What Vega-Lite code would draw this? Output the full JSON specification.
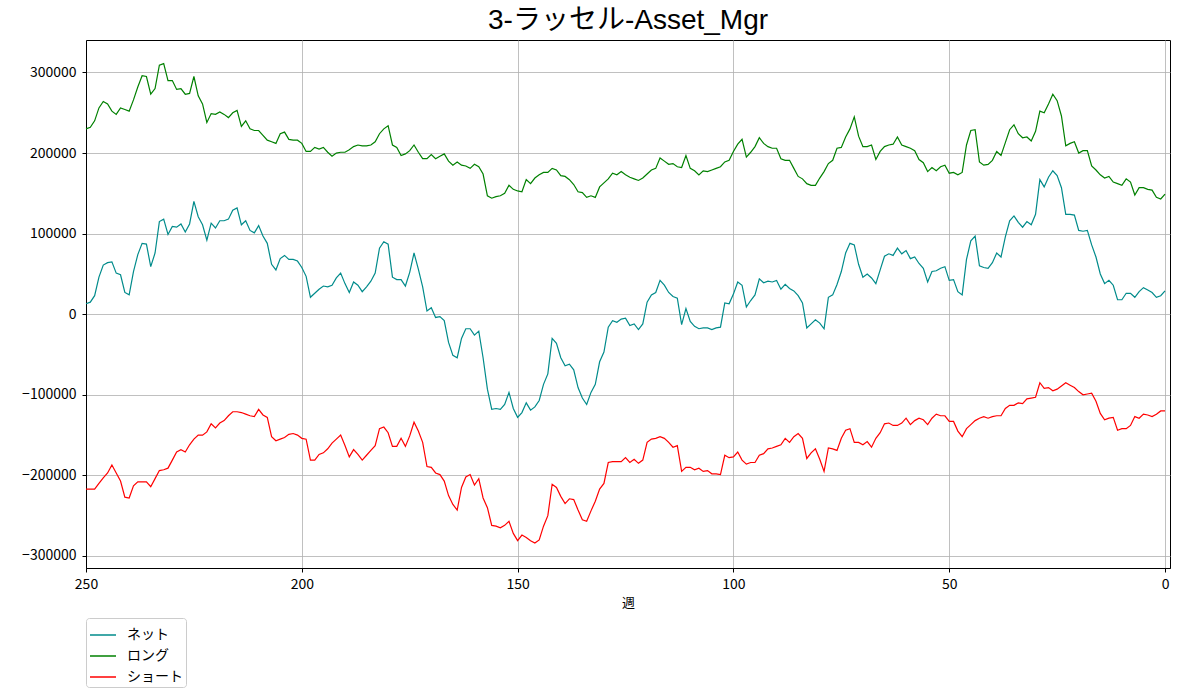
{
  "$schema": "https://vega.github.io/schema/vega-lite/v6.json",
  "description": "3-ラッセル-Asset_Mgr net / long / short positions by week",
  "width": 1084,
  "height": 528,
  "autosize": {"type": "none"},
  "padding": {"left": 86, "top": 40, "right": 10, "bottom": 130},
  "background": "white",
  "config": {
    "font": "Noto Sans CJK JP",
    "view": {"stroke": "black", "strokeWidth": 1},
    "axis": {
      "labelFont": "Noto Sans CJK JP",
      "titleFont": "Noto Sans CJK JP",
      "labelFontSize": 14,
      "titleFontSize": 13,
      "labelColor": "black",
      "titleColor": "black",
      "titleFontWeight": "normal",
      "tickColor": "black",
      "tickSize": 4,
      "domainColor": "black",
      "gridColor": "#b0b0b0",
      "gridWidth": 0.8
    },
    "legend": {"labelFont": "Noto Sans CJK JP"}
  },
  "title": {
    "text": "3-ラッセル-Asset_Mgr",
    "font": "Liberation Sans, Noto Sans CJK JP",
    "fontSize": 28,
    "fontWeight": "normal",
    "color": "black",
    "anchor": "middle",
    "offset": 5
  },
  "data": {
    "values": [
      {"week":250,"series":"ネット","value":13000},{"week":249,"series":"ネット","value":15000},{"week":248,"series":"ネット","value":23000},{"week":247,"series":"ネット","value":46000},{"week":246,"series":"ネット","value":61000},
      {"week":245,"series":"ネット","value":64000},{"week":244,"series":"ネット","value":65000},{"week":243,"series":"ネット","value":51000},{"week":242,"series":"ネット","value":49000},{"week":241,"series":"ネット","value":27000},
      {"week":240,"series":"ネット","value":24000},{"week":239,"series":"ネット","value":53000},{"week":238,"series":"ネット","value":74000},{"week":237,"series":"ネット","value":88000},{"week":236,"series":"ネット","value":87000},
      {"week":235,"series":"ネット","value":59000},{"week":234,"series":"ネット","value":76000},{"week":233,"series":"ネット","value":115000},{"week":232,"series":"ネット","value":118000},{"week":231,"series":"ネット","value":99000},
      {"week":230,"series":"ネット","value":109000},{"week":229,"series":"ネット","value":108000},{"week":228,"series":"ネット","value":112000},{"week":227,"series":"ネット","value":102000},{"week":226,"series":"ネット","value":112000},
      {"week":225,"series":"ネット","value":140000},{"week":224,"series":"ネット","value":121000},{"week":223,"series":"ネット","value":111000},{"week":222,"series":"ネット","value":92000},{"week":221,"series":"ネット","value":113000},
      {"week":220,"series":"ネット","value":107000},{"week":219,"series":"ネット","value":116000},{"week":218,"series":"ネット","value":116000},{"week":217,"series":"ネット","value":118000},{"week":216,"series":"ネット","value":129000},
      {"week":215,"series":"ネット","value":132000},{"week":214,"series":"ネット","value":111000},{"week":213,"series":"ネット","value":116000},{"week":212,"series":"ネット","value":104000},{"week":211,"series":"ネット","value":101000},
      {"week":210,"series":"ネット","value":110000},{"week":209,"series":"ネット","value":97000},{"week":208,"series":"ネット","value":88000},{"week":207,"series":"ネット","value":62000},{"week":206,"series":"ネット","value":55000},
      {"week":205,"series":"ネット","value":69000},{"week":204,"series":"ネット","value":73000},{"week":203,"series":"ネット","value":68000},{"week":202,"series":"ネット","value":68000},{"week":201,"series":"ネット","value":66000},
      {"week":200,"series":"ネット","value":58000},{"week":199,"series":"ネット","value":47000},{"week":198,"series":"ネット","value":21000},{"week":197,"series":"ネット","value":26000},{"week":196,"series":"ネット","value":31000},
      {"week":195,"series":"ネット","value":35000},{"week":194,"series":"ネット","value":34000},{"week":193,"series":"ネット","value":36000},{"week":192,"series":"ネット","value":45000},{"week":191,"series":"ネット","value":51000},
      {"week":190,"series":"ネット","value":38000},{"week":189,"series":"ネット","value":27000},{"week":188,"series":"ネット","value":40000},{"week":187,"series":"ネット","value":36000},{"week":186,"series":"ネット","value":28000},
      {"week":185,"series":"ネット","value":34000},{"week":184,"series":"ネット","value":41000},{"week":183,"series":"ネット","value":51000},{"week":182,"series":"ネット","value":82000},{"week":181,"series":"ネット","value":90000},
      {"week":180,"series":"ネット","value":87000},{"week":179,"series":"ネット","value":46000},{"week":178,"series":"ネット","value":43000},{"week":177,"series":"ネット","value":43000},{"week":176,"series":"ネット","value":35000},
      {"week":175,"series":"ネット","value":52000},{"week":174,"series":"ネット","value":76000},{"week":173,"series":"ネット","value":56000},{"week":172,"series":"ネット","value":34000},{"week":171,"series":"ネット","value":4000},
      {"week":170,"series":"ネット","value":8000},{"week":169,"series":"ネット","value":-4000},{"week":168,"series":"ネット","value":-3000},{"week":167,"series":"ネット","value":-8000},{"week":166,"series":"ネット","value":-35000},
      {"week":165,"series":"ネット","value":-51000},{"week":164,"series":"ネット","value":-54000},{"week":163,"series":"ネット","value":-30000},{"week":162,"series":"ネット","value":-18000},{"week":161,"series":"ネット","value":-18000},
      {"week":160,"series":"ネット","value":-26000},{"week":159,"series":"ネット","value":-21000},{"week":158,"series":"ネット","value":-54000},{"week":157,"series":"ネット","value":-93000},{"week":156,"series":"ネット","value":-118000},
      {"week":155,"series":"ネット","value":-117000},{"week":154,"series":"ネット","value":-118000},{"week":153,"series":"ネット","value":-112000},{"week":152,"series":"ネット","value":-97000},{"week":151,"series":"ネット","value":-117000},
      {"week":150,"series":"ネット","value":-128000},{"week":149,"series":"ネット","value":-122000},{"week":148,"series":"ネット","value":-110000},{"week":147,"series":"ネット","value":-119000},{"week":146,"series":"ネット","value":-115000},
      {"week":145,"series":"ネット","value":-107000},{"week":144,"series":"ネット","value":-87000},{"week":143,"series":"ネット","value":-74000},{"week":142,"series":"ネット","value":-30000},{"week":141,"series":"ネット","value":-36000},
      {"week":140,"series":"ネット","value":-54000},{"week":139,"series":"ネット","value":-64000},{"week":138,"series":"ネット","value":-62000},{"week":137,"series":"ネット","value":-69000},{"week":136,"series":"ネット","value":-91000},
      {"week":135,"series":"ネット","value":-104000},{"week":134,"series":"ネット","value":-112000},{"week":133,"series":"ネット","value":-97000},{"week":132,"series":"ネット","value":-87000},{"week":131,"series":"ネット","value":-59000},
      {"week":130,"series":"ネット","value":-47000},{"week":129,"series":"ネット","value":-16000},{"week":128,"series":"ネット","value":-8000},{"week":127,"series":"ネット","value":-10000},{"week":126,"series":"ネット","value":-6000},
      {"week":125,"series":"ネット","value":-5000},{"week":124,"series":"ネット","value":-14000},{"week":123,"series":"ネット","value":-12000},{"week":122,"series":"ネット","value":-19000},{"week":121,"series":"ネット","value":-12000},
      {"week":120,"series":"ネット","value":15000},{"week":119,"series":"ネット","value":24000},{"week":118,"series":"ネット","value":27000},{"week":117,"series":"ネット","value":42000},{"week":116,"series":"ネット","value":36000},
      {"week":115,"series":"ネット","value":27000},{"week":114,"series":"ネット","value":22000},{"week":113,"series":"ネット","value":20000},{"week":112,"series":"ネット","value":-13000},{"week":111,"series":"ネット","value":7000},
      {"week":110,"series":"ネット","value":-9000},{"week":109,"series":"ネット","value":-15000},{"week":108,"series":"ネット","value":-18000},{"week":107,"series":"ネット","value":-17000},{"week":106,"series":"ネット","value":-17000},
      {"week":105,"series":"ネット","value":-19000},{"week":104,"series":"ネット","value":-17000},{"week":103,"series":"ネット","value":-16000},{"week":102,"series":"ネット","value":14000},{"week":101,"series":"ネット","value":13000},
      {"week":100,"series":"ネット","value":25000},{"week":99,"series":"ネット","value":40000},{"week":98,"series":"ネット","value":36000},{"week":97,"series":"ネット","value":9000},{"week":96,"series":"ネット","value":17000},
      {"week":95,"series":"ネット","value":24000},{"week":94,"series":"ネット","value":44000},{"week":93,"series":"ネット","value":39000},{"week":92,"series":"ネット","value":41000},{"week":91,"series":"ネット","value":40000},
      {"week":90,"series":"ネット","value":42000},{"week":89,"series":"ネット","value":31000},{"week":88,"series":"ネット","value":37000},{"week":87,"series":"ネット","value":32000},{"week":86,"series":"ネット","value":29000},
      {"week":85,"series":"ネット","value":23000},{"week":84,"series":"ネット","value":14000},{"week":83,"series":"ネット","value":-17000},{"week":82,"series":"ネット","value":-12000},{"week":81,"series":"ネット","value":-7000},
      {"week":80,"series":"ネット","value":-11000},{"week":79,"series":"ネット","value":-18000},{"week":78,"series":"ネット","value":21000},{"week":77,"series":"ネット","value":24000},{"week":76,"series":"ネット","value":37000},
      {"week":75,"series":"ネット","value":53000},{"week":74,"series":"ネット","value":76000},{"week":73,"series":"ネット","value":88000},{"week":72,"series":"ネット","value":86000},{"week":71,"series":"ネット","value":62000},
      {"week":70,"series":"ネット","value":46000},{"week":69,"series":"ネット","value":50000},{"week":68,"series":"ネット","value":45000},{"week":67,"series":"ネット","value":38000},{"week":66,"series":"ネット","value":55000},
      {"week":65,"series":"ネット","value":72000},{"week":64,"series":"ネット","value":75000},{"week":63,"series":"ネット","value":73000},{"week":62,"series":"ネット","value":82000},{"week":61,"series":"ネット","value":75000},
      {"week":60,"series":"ネット","value":79000},{"week":59,"series":"ネット","value":69000},{"week":58,"series":"ネット","value":71000},{"week":57,"series":"ネット","value":63000},{"week":56,"series":"ネット","value":57000},
      {"week":55,"series":"ネット","value":40000},{"week":54,"series":"ネット","value":53000},{"week":53,"series":"ネット","value":54000},{"week":52,"series":"ネット","value":57000},{"week":51,"series":"ネット","value":59000},
      {"week":50,"series":"ネット","value":42000},{"week":49,"series":"ネット","value":43000},{"week":48,"series":"ネット","value":28000},{"week":47,"series":"ネット","value":24000},{"week":46,"series":"ネット","value":68000},
      {"week":45,"series":"ネット","value":91000},{"week":44,"series":"ネット","value":97000},{"week":43,"series":"ネット","value":60000},{"week":42,"series":"ネット","value":58000},{"week":41,"series":"ネット","value":57000},
      {"week":40,"series":"ネット","value":64000},{"week":39,"series":"ネット","value":76000},{"week":38,"series":"ネット","value":71000},{"week":37,"series":"ネット","value":96000},{"week":36,"series":"ネット","value":116000},
      {"week":35,"series":"ネット","value":122000},{"week":34,"series":"ネット","value":114000},{"week":33,"series":"ネット","value":108000},{"week":32,"series":"ネット","value":115000},{"week":31,"series":"ネット","value":111000},
      {"week":30,"series":"ネット","value":124000},{"week":29,"series":"ネット","value":167000},{"week":28,"series":"ネット","value":158000},{"week":27,"series":"ネット","value":170000},{"week":26,"series":"ネット","value":178000},
      {"week":25,"series":"ネット","value":172000},{"week":24,"series":"ネット","value":157000},{"week":23,"series":"ネット","value":124000},{"week":22,"series":"ネット","value":124000},{"week":21,"series":"ネット","value":123000},
      {"week":20,"series":"ネット","value":104000},{"week":19,"series":"ネット","value":103000},{"week":18,"series":"ネット","value":104000},{"week":17,"series":"ネット","value":86000},{"week":16,"series":"ネット","value":71000},
      {"week":15,"series":"ネット","value":50000},{"week":14,"series":"ネット","value":38000},{"week":13,"series":"ネット","value":42000},{"week":12,"series":"ネット","value":36000},{"week":11,"series":"ネット","value":18000},
      {"week":10,"series":"ネット","value":18000},{"week":9,"series":"ネット","value":26000},{"week":8,"series":"ネット","value":26000},{"week":7,"series":"ネット","value":21000},{"week":6,"series":"ネット","value":28000},
      {"week":5,"series":"ネット","value":33000},{"week":4,"series":"ネット","value":30000},{"week":3,"series":"ネット","value":27000},{"week":2,"series":"ネット","value":21000},{"week":1,"series":"ネット","value":23000},
      {"week":0,"series":"ネット","value":29000},

      {"week":250,"series":"ロング","value":230000},{"week":249,"series":"ロング","value":232000},{"week":248,"series":"ロング","value":240000},{"week":247,"series":"ロング","value":256000},{"week":246,"series":"ロング","value":264000},
      {"week":245,"series":"ロング","value":261000},{"week":244,"series":"ロング","value":252000},{"week":243,"series":"ロング","value":248000},{"week":242,"series":"ロング","value":256000},{"week":241,"series":"ロング","value":254000},
      {"week":240,"series":"ロング","value":252000},{"week":239,"series":"ロング","value":266000},{"week":238,"series":"ロング","value":282000},{"week":237,"series":"ロング","value":296000},{"week":236,"series":"ロング","value":295000},
      {"week":235,"series":"ロング","value":273000},{"week":234,"series":"ロング","value":280000},{"week":233,"series":"ロング","value":309000},{"week":232,"series":"ロング","value":311000},{"week":231,"series":"ロング","value":290000},
      {"week":230,"series":"ロング","value":290000},{"week":229,"series":"ロング","value":279000},{"week":228,"series":"ロング","value":280000},{"week":227,"series":"ロング","value":273000},{"week":226,"series":"ロング","value":274000},
      {"week":225,"series":"ロング","value":295000},{"week":224,"series":"ロング","value":271000},{"week":223,"series":"ロング","value":261000},{"week":222,"series":"ロング","value":238000},{"week":221,"series":"ロング","value":249000},
      {"week":220,"series":"ロング","value":248000},{"week":219,"series":"ロング","value":251000},{"week":218,"series":"ロング","value":248000},{"week":217,"series":"ロング","value":244000},{"week":216,"series":"ロング","value":250000},
      {"week":215,"series":"ロング","value":253000},{"week":214,"series":"ロング","value":233000},{"week":213,"series":"ロング","value":240000},{"week":212,"series":"ロング","value":230000},{"week":211,"series":"ロング","value":228000},
      {"week":210,"series":"ロング","value":228000},{"week":209,"series":"ロング","value":222000},{"week":208,"series":"ロング","value":216000},{"week":207,"series":"ロング","value":214000},{"week":206,"series":"ロング","value":212000},
      {"week":205,"series":"ロング","value":224000},{"week":204,"series":"ロング","value":226000},{"week":203,"series":"ロング","value":217000},{"week":202,"series":"ロング","value":216000},{"week":201,"series":"ロング","value":216000},
      {"week":200,"series":"ロング","value":212000},{"week":199,"series":"ロング","value":202000},{"week":198,"series":"ロング","value":202000},{"week":197,"series":"ロング","value":207000},{"week":196,"series":"ロング","value":205000},
      {"week":195,"series":"ロング","value":207000},{"week":194,"series":"ロング","value":201000},{"week":193,"series":"ロング","value":196000},{"week":192,"series":"ロング","value":200000},{"week":191,"series":"ロング","value":201000},
      {"week":190,"series":"ロング","value":201000},{"week":189,"series":"ロング","value":204000},{"week":188,"series":"ロング","value":208000},{"week":187,"series":"ロング","value":210000},{"week":186,"series":"ロング","value":209000},
      {"week":185,"series":"ロング","value":209000},{"week":184,"series":"ロング","value":210000},{"week":183,"series":"ロング","value":214000},{"week":182,"series":"ロング","value":224000},{"week":181,"series":"ロング","value":230000},
      {"week":180,"series":"ロング","value":234000},{"week":179,"series":"ロング","value":210000},{"week":178,"series":"ロング","value":207000},{"week":177,"series":"ロング","value":197000},{"week":176,"series":"ロング","value":199000},
      {"week":175,"series":"ロング","value":203000},{"week":174,"series":"ロング","value":210000},{"week":173,"series":"ロング","value":201000},{"week":172,"series":"ロング","value":193000},{"week":171,"series":"ロング","value":193000},
      {"week":170,"series":"ロング","value":198000},{"week":169,"series":"ロング","value":193000},{"week":168,"series":"ロング","value":196000},{"week":167,"series":"ロング","value":199000},{"week":166,"series":"ロング","value":190000},
      {"week":165,"series":"ロング","value":185000},{"week":164,"series":"ロング","value":189000},{"week":163,"series":"ロング","value":185000},{"week":162,"series":"ロング","value":184000},{"week":161,"series":"ロング","value":181000},
      {"week":160,"series":"ロング","value":186000},{"week":159,"series":"ロング","value":183000},{"week":158,"series":"ロング","value":174000},{"week":157,"series":"ロング","value":147000},{"week":156,"series":"ロング","value":144000},
      {"week":155,"series":"ロング","value":146000},{"week":154,"series":"ロング","value":147000},{"week":153,"series":"ロング","value":150000},{"week":152,"series":"ロング","value":160000},{"week":151,"series":"ロング","value":155000},
      {"week":150,"series":"ロング","value":153000},{"week":149,"series":"ロング","value":152000},{"week":148,"series":"ロング","value":167000},{"week":147,"series":"ロング","value":162000},{"week":146,"series":"ロング","value":169000},
      {"week":145,"series":"ロング","value":173000},{"week":144,"series":"ロング","value":176000},{"week":143,"series":"ロング","value":176000},{"week":142,"series":"ロング","value":181000},{"week":141,"series":"ロング","value":179000},
      {"week":140,"series":"ロング","value":172000},{"week":139,"series":"ロング","value":171000},{"week":138,"series":"ロング","value":167000},{"week":137,"series":"ロング","value":161000},{"week":136,"series":"ロング","value":152000},
      {"week":135,"series":"ロング","value":151000},{"week":134,"series":"ロング","value":145000},{"week":133,"series":"ロング","value":147000},{"week":132,"series":"ロング","value":145000},{"week":131,"series":"ロング","value":158000},
      {"week":130,"series":"ロング","value":163000},{"week":129,"series":"ロング","value":168000},{"week":128,"series":"ロング","value":175000},{"week":127,"series":"ロング","value":173000},{"week":126,"series":"ロング","value":177000},
      {"week":125,"series":"ロング","value":173000},{"week":124,"series":"ロング","value":170000},{"week":123,"series":"ロング","value":168000},{"week":122,"series":"ロング","value":166000},{"week":121,"series":"ロング","value":169000},
      {"week":120,"series":"ロング","value":174000},{"week":119,"series":"ロング","value":179000},{"week":118,"series":"ロング","value":181000},{"week":117,"series":"ロング","value":194000},{"week":116,"series":"ロング","value":190000},
      {"week":115,"series":"ロング","value":186000},{"week":114,"series":"ロング","value":187000},{"week":113,"series":"ロング","value":183000},{"week":112,"series":"ロング","value":182000},{"week":111,"series":"ロング","value":197000},
      {"week":110,"series":"ロング","value":181000},{"week":109,"series":"ロング","value":178000},{"week":108,"series":"ロング","value":173000},{"week":107,"series":"ロング","value":178000},{"week":106,"series":"ロング","value":177000},
      {"week":105,"series":"ロング","value":179000},{"week":104,"series":"ロング","value":181000},{"week":103,"series":"ロング","value":183000},{"week":102,"series":"ロング","value":189000},{"week":101,"series":"ロング","value":191000},
      {"week":100,"series":"ロング","value":202000},{"week":99,"series":"ロング","value":211000},{"week":98,"series":"ロング","value":217000},{"week":97,"series":"ロング","value":195000},{"week":96,"series":"ロング","value":201000},
      {"week":95,"series":"ロング","value":208000},{"week":94,"series":"ロング","value":219000},{"week":93,"series":"ロング","value":212000},{"week":92,"series":"ロング","value":208000},{"week":91,"series":"ロング","value":206000},
      {"week":90,"series":"ロング","value":206000},{"week":89,"series":"ロング","value":193000},{"week":88,"series":"ロング","value":191000},{"week":87,"series":"ロング","value":191000},{"week":86,"series":"ロング","value":181000},
      {"week":85,"series":"ロング","value":171000},{"week":84,"series":"ロング","value":168000},{"week":83,"series":"ロング","value":162000},{"week":82,"series":"ロング","value":160000},{"week":81,"series":"ロング","value":160000},
      {"week":80,"series":"ロング","value":169000},{"week":79,"series":"ロング","value":177000},{"week":78,"series":"ロング","value":187000},{"week":77,"series":"ロング","value":191000},{"week":76,"series":"ロング","value":206000},
      {"week":75,"series":"ロング","value":207000},{"week":74,"series":"ロング","value":220000},{"week":73,"series":"ロング","value":230000},{"week":72,"series":"ロング","value":245000},{"week":71,"series":"ロング","value":221000},
      {"week":70,"series":"ロング","value":208000},{"week":69,"series":"ロング","value":208000},{"week":68,"series":"ロング","value":210000},{"week":67,"series":"ロング","value":192000},{"week":66,"series":"ロング","value":202000},
      {"week":65,"series":"ロング","value":208000},{"week":64,"series":"ロング","value":210000},{"week":63,"series":"ロング","value":211000},{"week":62,"series":"ロング","value":220000},{"week":61,"series":"ロング","value":210000},
      {"week":60,"series":"ロング","value":208000},{"week":59,"series":"ロング","value":206000},{"week":58,"series":"ロング","value":203000},{"week":57,"series":"ロング","value":192000},{"week":56,"series":"ロング","value":188000},
      {"week":55,"series":"ロング","value":177000},{"week":54,"series":"ロング","value":182000},{"week":53,"series":"ロング","value":178000},{"week":52,"series":"ロング","value":183000},{"week":51,"series":"ロング","value":185000},
      {"week":50,"series":"ロング","value":175000},{"week":49,"series":"ロング","value":176000},{"week":48,"series":"ロング","value":173000},{"week":47,"series":"ロング","value":176000},{"week":46,"series":"ロング","value":210000},
      {"week":45,"series":"ロング","value":228000},{"week":44,"series":"ロング","value":229000},{"week":43,"series":"ロング","value":189000},{"week":42,"series":"ロング","value":185000},{"week":41,"series":"ロング","value":186000},
      {"week":40,"series":"ロング","value":191000},{"week":39,"series":"ロング","value":202000},{"week":38,"series":"ロング","value":197000},{"week":37,"series":"ロング","value":213000},{"week":36,"series":"ロング","value":229000},
      {"week":35,"series":"ロング","value":235000},{"week":34,"series":"ロング","value":224000},{"week":33,"series":"ロング","value":219000},{"week":32,"series":"ロング","value":220000},{"week":31,"series":"ロング","value":215000},
      {"week":30,"series":"ロング","value":227000},{"week":29,"series":"ロング","value":252000},{"week":28,"series":"ロング","value":250000},{"week":27,"series":"ロング","value":261000},{"week":26,"series":"ロング","value":273000},
      {"week":25,"series":"ロング","value":265000},{"week":24,"series":"ロング","value":246000},{"week":23,"series":"ロング","value":209000},{"week":22,"series":"ロング","value":212000},{"week":21,"series":"ロング","value":214000},
      {"week":20,"series":"ロング","value":200000},{"week":19,"series":"ロング","value":203000},{"week":18,"series":"ロング","value":203000},{"week":17,"series":"ロング","value":184000},{"week":16,"series":"ロング","value":179000},
      {"week":15,"series":"ロング","value":173000},{"week":14,"series":"ロング","value":169000},{"week":13,"series":"ロング","value":171000},{"week":12,"series":"ロング","value":164000},{"week":11,"series":"ロング","value":162000},
      {"week":10,"series":"ロング","value":160000},{"week":9,"series":"ロング","value":168000},{"week":8,"series":"ロング","value":164000},{"week":7,"series":"ロング","value":148000},{"week":6,"series":"ロング","value":157000},
      {"week":5,"series":"ロング","value":157000},{"week":4,"series":"ロング","value":155000},{"week":3,"series":"ロング","value":154000},{"week":2,"series":"ロング","value":145000},{"week":1,"series":"ロング","value":143000},
      {"week":0,"series":"ロング","value":149000},

      {"week":250,"series":"ショート","value":-217000},{"week":249,"series":"ショート","value":-217000},{"week":248,"series":"ショート","value":-217000},{"week":247,"series":"ショート","value":-210000},{"week":246,"series":"ショート","value":-203000},
      {"week":245,"series":"ショート","value":-197000},{"week":244,"series":"ショート","value":-187000},{"week":243,"series":"ショート","value":-197000},{"week":242,"series":"ショート","value":-207000},{"week":241,"series":"ショート","value":-227000},
      {"week":240,"series":"ショート","value":-228000},{"week":239,"series":"ショート","value":-213000},{"week":238,"series":"ショート","value":-208000},{"week":237,"series":"ショート","value":-208000},{"week":236,"series":"ショート","value":-208000},
      {"week":235,"series":"ショート","value":-214000},{"week":234,"series":"ショート","value":-204000},{"week":233,"series":"ショート","value":-194000},{"week":232,"series":"ショート","value":-193000},{"week":231,"series":"ショート","value":-191000},
      {"week":230,"series":"ショート","value":-181000},{"week":229,"series":"ショート","value":-171000},{"week":228,"series":"ショート","value":-168000},{"week":227,"series":"ショート","value":-171000},{"week":226,"series":"ショート","value":-162000},
      {"week":225,"series":"ショート","value":-155000},{"week":224,"series":"ショート","value":-150000},{"week":223,"series":"ショート","value":-150000},{"week":222,"series":"ショート","value":-146000},{"week":221,"series":"ショート","value":-136000},
      {"week":220,"series":"ショート","value":-141000},{"week":219,"series":"ショート","value":-135000},{"week":218,"series":"ショート","value":-132000},{"week":217,"series":"ショート","value":-126000},{"week":216,"series":"ショート","value":-121000},
      {"week":215,"series":"ショート","value":-121000},{"week":214,"series":"ショート","value":-122000},{"week":213,"series":"ショート","value":-124000},{"week":212,"series":"ショート","value":-126000},{"week":211,"series":"ショート","value":-127000},
      {"week":210,"series":"ショート","value":-118000},{"week":209,"series":"ショート","value":-125000},{"week":208,"series":"ショート","value":-128000},{"week":207,"series":"ショート","value":-152000},{"week":206,"series":"ショート","value":-157000},
      {"week":205,"series":"ショート","value":-155000},{"week":204,"series":"ショート","value":-153000},{"week":203,"series":"ショート","value":-149000},{"week":202,"series":"ショート","value":-148000},{"week":201,"series":"ショート","value":-150000},
      {"week":200,"series":"ショート","value":-154000},{"week":199,"series":"ショート","value":-155000},{"week":198,"series":"ショート","value":-181000},{"week":197,"series":"ショート","value":-181000},{"week":196,"series":"ショート","value":-174000},
      {"week":195,"series":"ショート","value":-172000},{"week":194,"series":"ショート","value":-167000},{"week":193,"series":"ショート","value":-160000},{"week":192,"series":"ショート","value":-155000},{"week":191,"series":"ショート","value":-150000},
      {"week":190,"series":"ショート","value":-163000},{"week":189,"series":"ショート","value":-177000},{"week":188,"series":"ショート","value":-168000},{"week":187,"series":"ショート","value":-174000},{"week":186,"series":"ショート","value":-181000},
      {"week":185,"series":"ショート","value":-175000},{"week":184,"series":"ショート","value":-169000},{"week":183,"series":"ショート","value":-163000},{"week":182,"series":"ショート","value":-142000},{"week":181,"series":"ショート","value":-140000},
      {"week":180,"series":"ショート","value":-147000},{"week":179,"series":"ショート","value":-164000},{"week":178,"series":"ショート","value":-164000},{"week":177,"series":"ショート","value":-154000},{"week":176,"series":"ショート","value":-164000},
      {"week":175,"series":"ショート","value":-151000},{"week":174,"series":"ショート","value":-134000},{"week":173,"series":"ショート","value":-145000},{"week":172,"series":"ショート","value":-159000},{"week":171,"series":"ショート","value":-189000},
      {"week":170,"series":"ショート","value":-190000},{"week":169,"series":"ショート","value":-197000},{"week":168,"series":"ショート","value":-199000},{"week":167,"series":"ショート","value":-207000},{"week":166,"series":"ショート","value":-225000},
      {"week":165,"series":"ショート","value":-236000},{"week":164,"series":"ショート","value":-243000},{"week":163,"series":"ショート","value":-215000},{"week":162,"series":"ショート","value":-202000},{"week":161,"series":"ショート","value":-199000},
      {"week":160,"series":"ショート","value":-212000},{"week":159,"series":"ショート","value":-204000},{"week":158,"series":"ショート","value":-228000},{"week":157,"series":"ショート","value":-240000},{"week":156,"series":"ショート","value":-262000},
      {"week":155,"series":"ショート","value":-263000},{"week":154,"series":"ショート","value":-265000},{"week":153,"series":"ショート","value":-262000},{"week":152,"series":"ショート","value":-257000},{"week":151,"series":"ショート","value":-272000},
      {"week":150,"series":"ショート","value":-281000},{"week":149,"series":"ショート","value":-274000},{"week":148,"series":"ショート","value":-277000},{"week":147,"series":"ショート","value":-281000},{"week":146,"series":"ショート","value":-284000},
      {"week":145,"series":"ショート","value":-280000},{"week":144,"series":"ショート","value":-263000},{"week":143,"series":"ショート","value":-250000},{"week":142,"series":"ショート","value":-211000},{"week":141,"series":"ショート","value":-215000},
      {"week":140,"series":"ショート","value":-226000},{"week":139,"series":"ショート","value":-235000},{"week":138,"series":"ショート","value":-229000},{"week":137,"series":"ショート","value":-230000},{"week":136,"series":"ショート","value":-243000},
      {"week":135,"series":"ショート","value":-255000},{"week":134,"series":"ショート","value":-257000},{"week":133,"series":"ショート","value":-244000},{"week":132,"series":"ショート","value":-232000},{"week":131,"series":"ショート","value":-217000},
      {"week":130,"series":"ショート","value":-210000},{"week":129,"series":"ショート","value":-184000},{"week":128,"series":"ショート","value":-183000},{"week":127,"series":"ショート","value":-183000},{"week":126,"series":"ショート","value":-183000},
      {"week":125,"series":"ショート","value":-178000},{"week":124,"series":"ショート","value":-184000},{"week":123,"series":"ショート","value":-180000},{"week":122,"series":"ショート","value":-185000},{"week":121,"series":"ショート","value":-181000},
      {"week":120,"series":"ショート","value":-159000},{"week":119,"series":"ショート","value":-155000},{"week":118,"series":"ショート","value":-154000},{"week":117,"series":"ショート","value":-152000},{"week":116,"series":"ショート","value":-154000},
      {"week":115,"series":"ショート","value":-159000},{"week":114,"series":"ショート","value":-165000},{"week":113,"series":"ショート","value":-163000},{"week":112,"series":"ショート","value":-195000},{"week":111,"series":"ショート","value":-190000},
      {"week":110,"series":"ショート","value":-190000},{"week":109,"series":"ショート","value":-193000},{"week":108,"series":"ショート","value":-191000},{"week":107,"series":"ショート","value":-195000},{"week":106,"series":"ショート","value":-194000},
      {"week":105,"series":"ショート","value":-198000},{"week":104,"series":"ショート","value":-198000},{"week":103,"series":"ショート","value":-199000},{"week":102,"series":"ショート","value":-175000},{"week":101,"series":"ショート","value":-178000},
      {"week":100,"series":"ショート","value":-177000},{"week":99,"series":"ショート","value":-171000},{"week":98,"series":"ショート","value":-181000},{"week":97,"series":"ショート","value":-186000},{"week":96,"series":"ショート","value":-184000},
      {"week":95,"series":"ショート","value":-184000},{"week":94,"series":"ショート","value":-175000},{"week":93,"series":"ショート","value":-173000},{"week":92,"series":"ショート","value":-167000},{"week":91,"series":"ショート","value":-166000},
      {"week":90,"series":"ショート","value":-164000},{"week":89,"series":"ショート","value":-162000},{"week":88,"series":"ショート","value":-154000},{"week":87,"series":"ショート","value":-159000},{"week":86,"series":"ショート","value":-152000},
      {"week":85,"series":"ショート","value":-148000},{"week":84,"series":"ショート","value":-154000},{"week":83,"series":"ショート","value":-179000},{"week":82,"series":"ショート","value":-172000},{"week":81,"series":"ショート","value":-167000},
      {"week":80,"series":"ショート","value":-180000},{"week":79,"series":"ショート","value":-195000},{"week":78,"series":"ショート","value":-166000},{"week":77,"series":"ショート","value":-167000},{"week":76,"series":"ショート","value":-169000},
      {"week":75,"series":"ショート","value":-154000},{"week":74,"series":"ショート","value":-144000},{"week":73,"series":"ショート","value":-142000},{"week":72,"series":"ショート","value":-159000},{"week":71,"series":"ショート","value":-159000},
      {"week":70,"series":"ショート","value":-162000},{"week":69,"series":"ショート","value":-158000},{"week":68,"series":"ショート","value":-165000},{"week":67,"series":"ショート","value":-154000},{"week":66,"series":"ショート","value":-147000},
      {"week":65,"series":"ショート","value":-136000},{"week":64,"series":"ショート","value":-135000},{"week":63,"series":"ショート","value":-138000},{"week":62,"series":"ショート","value":-138000},{"week":61,"series":"ショート","value":-135000},
      {"week":60,"series":"ショート","value":-129000},{"week":59,"series":"ショート","value":-137000},{"week":58,"series":"ショート","value":-132000},{"week":57,"series":"ショート","value":-129000},{"week":56,"series":"ショート","value":-131000},
      {"week":55,"series":"ショート","value":-137000},{"week":54,"series":"ショート","value":-129000},{"week":53,"series":"ショート","value":-124000},{"week":52,"series":"ショート","value":-126000},{"week":51,"series":"ショート","value":-126000},
      {"week":50,"series":"ショート","value":-133000},{"week":49,"series":"ショート","value":-133000},{"week":48,"series":"ショート","value":-145000},{"week":47,"series":"ショート","value":-152000},{"week":46,"series":"ショート","value":-142000},
      {"week":45,"series":"ショート","value":-137000},{"week":44,"series":"ショート","value":-132000},{"week":43,"series":"ショート","value":-129000},{"week":42,"series":"ショート","value":-127000},{"week":41,"series":"ショート","value":-129000},
      {"week":40,"series":"ショート","value":-127000},{"week":39,"series":"ショート","value":-126000},{"week":38,"series":"ショート","value":-126000},{"week":37,"series":"ショート","value":-117000},{"week":36,"series":"ショート","value":-113000},
      {"week":35,"series":"ショート","value":-113000},{"week":34,"series":"ショート","value":-110000},{"week":33,"series":"ショート","value":-111000},{"week":32,"series":"ショート","value":-105000},{"week":31,"series":"ショート","value":-104000},
      {"week":30,"series":"ショート","value":-103000},{"week":29,"series":"ショート","value":-85000},{"week":28,"series":"ショート","value":-92000},{"week":27,"series":"ショート","value":-91000},{"week":26,"series":"ショート","value":-95000},
      {"week":25,"series":"ショート","value":-93000},{"week":24,"series":"ショート","value":-89000},{"week":23,"series":"ショート","value":-85000},{"week":22,"series":"ショート","value":-88000},{"week":21,"series":"ショート","value":-91000},
      {"week":20,"series":"ショート","value":-96000},{"week":19,"series":"ショート","value":-100000},{"week":18,"series":"ショート","value":-99000},{"week":17,"series":"ショート","value":-98000},{"week":16,"series":"ショート","value":-108000},
      {"week":15,"series":"ショート","value":-123000},{"week":14,"series":"ショート","value":-131000},{"week":13,"series":"ショート","value":-129000},{"week":12,"series":"ショート","value":-128000},{"week":11,"series":"ショート","value":-144000},
      {"week":10,"series":"ショート","value":-142000},{"week":9,"series":"ショート","value":-142000},{"week":8,"series":"ショート","value":-138000},{"week":7,"series":"ショート","value":-127000},{"week":6,"series":"ショート","value":-129000},
      {"week":5,"series":"ショート","value":-124000},{"week":4,"series":"ショート","value":-125000},{"week":3,"series":"ショート","value":-127000},{"week":2,"series":"ショート","value":-124000},{"week":1,"series":"ショート","value":-120000},
      {"week":0,"series":"ショート","value":-120000}
    ]
  },
  "mark": {"type": "line", "strokeWidth": 1.2},
  "encoding": {
    "x": {
      "field": "week",
      "type": "quantitative",
      "scale": {"domain": [250, -1.15], "nice": false, "zero": false},
      "axis": {
        "values": [250, 200, 150, 100, 50, 0],
        "format": "d",
        "title": "週",
        "grid": true,
        "labelFlush": false,
        "labelOverlap": false,
        "labelPadding": 5,
        "titlePadding": 5
      }
    },
    "y": {
      "field": "value",
      "type": "quantitative",
      "scale": {"domain": [-314900, 340300], "nice": false, "zero": false},
      "axis": {
        "values": [-300000, -200000, -100000, 0, 100000, 200000, 300000],
        "format": "d",
        "title": null,
        "grid": true,
        "labelPadding": 6
      }
    },
    "color": {
      "field": "series",
      "type": "nominal",
      "scale": {
        "domain": ["ネット", "ロング", "ショート"],
        "range": ["#008b8b", "#008000", "#ff0000"]
      },
      "legend": {
        "title": null,
        "orient": "none",
        "legendX": 0,
        "legendY": 578,
        "direction": "vertical",
        "symbolType": "stroke",
        "symbolSize": 676,
        "symbolStrokeWidth": 1.5,
        "labelFontSize": 14,
        "labelColor": "black",
        "labelOffset": 10,
        "rowPadding": -5,
        "padding": 3,
        "strokeColor": "#cccccc",
        "fillColor": "white",
        "cornerRadius": 3
      }
    }
  }
}
